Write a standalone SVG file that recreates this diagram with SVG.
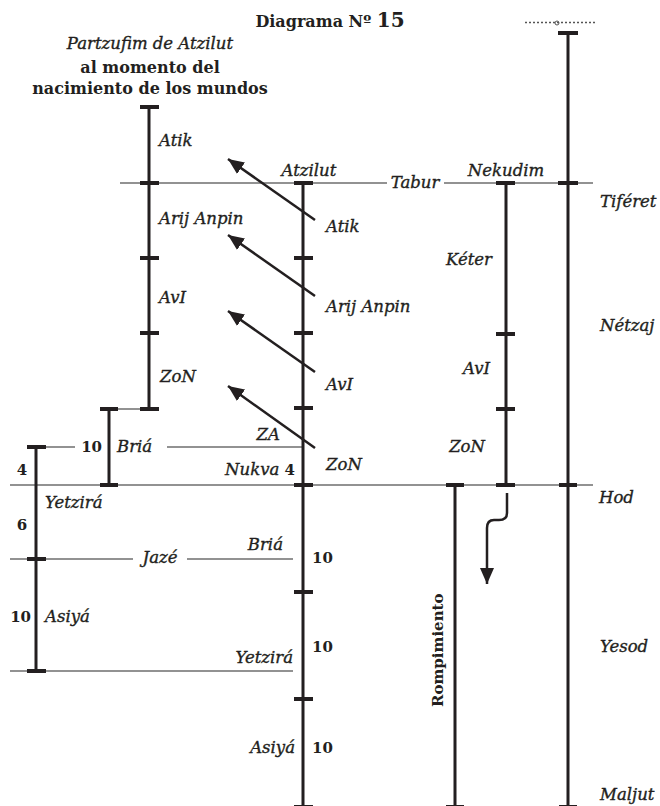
<svg xmlns="http://www.w3.org/2000/svg" width="660" height="806" viewBox="0 0 660 806">
<style>
.col{stroke:#231f20;stroke-width:3;fill:none}
.tk{stroke:#231f20;stroke-width:4;fill:none}
.thin{stroke:#6e6e6e;stroke-width:1.5;fill:none}
.arr{stroke:#231f20;stroke-width:2.5;fill:none}
.it{font-family:"DejaVu Serif","Liberation Serif",serif;font-style:italic;font-size:16.5px;fill:#231f20;stroke:#231f20;stroke-width:0.35}
.bd{font-family:"DejaVu Serif","Liberation Serif",serif;font-weight:bold;font-size:15px;fill:#231f20}
.tt{font-family:"DejaVu Serif","Liberation Serif",serif;font-weight:bold;font-size:16px;fill:#231f20}
</style>
<defs>
<marker id="ah" markerUnits="userSpaceOnUse" markerWidth="18" markerHeight="14" refX="16" refY="7" orient="auto">
<path d="M0,0 L16,7 L0,14 Z" fill="#231f20"/>
</marker>
</defs>
<rect width="660" height="806" fill="#fff"/>

<g id="title">
<text class="tt" x="330" y="27" text-anchor="middle" font-size="17px">Diagrama Nº <tspan font-size="20px">15</tspan></text>
<text class="it" x="150" y="49" text-anchor="middle" font-size="17.5px">Partzufim de Atzilut</text>
<text class="tt" x="150" y="73" text-anchor="middle">al momento del</text>
<text class="tt" x="150" y="94" text-anchor="middle" font-size="15.2px">nacimiento de los mundos</text>
</g>

<g id="cutoff">
<line x1="525" y1="22.5" x2="597" y2="22.5" stroke="#555" stroke-width="1.5" stroke-dasharray="2,2"/>
<circle cx="557" cy="23" r="2" fill="none" stroke="#555" stroke-width="1"/>
</g>

<g id="connectors">
<line class="thin" x1="120" y1="183" x2="387" y2="183"/>
<line class="thin" x1="444" y1="183" x2="593" y2="183"/>
<line class="thin" x1="10" y1="485" x2="593" y2="485"/>
<line class="thin" x1="46" y1="447" x2="75" y2="447"/>
<line class="thin" x1="167" y1="447" x2="303" y2="447"/>
<line class="thin" x1="118" y1="409" x2="140" y2="409"/>
<line class="thin" x1="10" y1="559" x2="133" y2="559"/>
<line class="thin" x1="187" y1="559" x2="293" y2="559"/>
<line class="thin" x1="10" y1="671" x2="293" y2="671"/>
<line class="arr" x1="315" y1="220" x2="228" y2="159" marker-end="url(#ah)"/>
<line class="arr" x1="315" y1="296" x2="228" y2="235" marker-end="url(#ah)"/>
<line class="arr" x1="315" y1="372" x2="228" y2="311" marker-end="url(#ah)"/>
<line class="arr" x1="315" y1="448" x2="228" y2="386" marker-end="url(#ah)"/>
<path class="arr" d="M507,493 V513 Q507,520 499,520 H494 Q487,520 487,528 V584" marker-end="url(#ah)"/>
</g>

<g id="col-partzufim">
<line class="col" x1="149" y1="107" x2="149" y2="409"/>
<path class="tk" d="M140,107H159M140,183H159M140,258H159M140,333H159M140,409H159"/>
<text class="it" x="159" y="146">Atik</text>
<text class="it" x="159" y="224">Arij Anpin</text>
<text class="it" x="159" y="303">AvI</text>
<text class="it" x="160" y="382">ZoN</text>
</g>

<g id="col-bria">
<line class="col" x1="109" y1="409" x2="109" y2="485"/>
<path class="tk" d="M100,409H118M100,485H118"/>
<text class="bd" x="102" y="452" text-anchor="end">10</text>
<text class="it" x="117" y="452">Briá</text>
</g>

<g id="col-left">
<line class="col" x1="36" y1="447" x2="36" y2="671"/>
<path class="tk" d="M27,447H46M27,559H46M27,671H46"/>
<text class="bd" x="22" y="475" text-anchor="middle">4</text>
<text class="it" x="45" y="508">Yetzirá</text>
<text class="bd" x="22" y="530" text-anchor="middle">6</text>
<text class="it" x="160" y="563" text-anchor="middle">Jazé</text>
<text class="bd" x="31" y="622" text-anchor="end">10</text>
<text class="it" x="45" y="622">Asiyá</text>
</g>

<g id="col-atzilut">
<line class="col" x1="303" y1="183" x2="303" y2="806"/>
<path class="tk" d="M294,183H313M294,258H313M294,333H313M294,408H313M294,485H313M294,592H313M294,699H313M294,807H313"/>
<text class="it" x="309" y="176" text-anchor="middle">Atzilut</text>
<text class="it" x="326" y="232">Atik</text>
<text class="it" x="326" y="312">Arij Anpin</text>
<text class="it" x="326" y="390">AvI</text>
<text class="it" x="326" y="470">ZoN</text>
<text class="it" x="280" y="440" text-anchor="end">ZA</text>
<text class="it" x="295" y="475" text-anchor="end">Nukva <tspan class="bd" font-style="normal" stroke="none">4</tspan></text>
<text class="it" x="283" y="550" text-anchor="end">Briá</text>
<text class="bd" x="312" y="563">10</text>
<text class="it" x="293" y="663" text-anchor="end">Yetzirá</text>
<text class="bd" x="312" y="652">10</text>
<text class="it" x="295" y="753" text-anchor="end">Asiyá</text>
<text class="bd" x="312" y="753">10</text>
</g>

<g id="tabur">
<text class="it" x="415" y="188" text-anchor="middle">Tabur</text>
</g>

<g id="col-nekudim">
<line class="col" x1="506" y1="183" x2="506" y2="485"/>
<path class="tk" d="M496,183H515M496,334H515M496,409H515M496,485H515"/>
<text class="it" x="506" y="176" text-anchor="middle">Nekudim</text>
<text class="it" x="492" y="265" text-anchor="end">Kéter</text>
<text class="it" x="490" y="374" text-anchor="end">AvI</text>
<text class="it" x="485" y="452" text-anchor="end">ZoN</text>
</g>

<g id="col-rompimiento">
<line class="col" x1="455" y1="485" x2="455" y2="806"/>
<path class="tk" d="M446,485H464M446,807H464"/>
<text class="bd" transform="translate(443,707) rotate(-90)">Rompimiento</text>
</g>

<g id="col-right">
<line class="col" x1="568" y1="33" x2="568" y2="806"/>
<path class="tk" d="M558,33H578M558,183H578M559,485H577M559,807H577"/>
<text class="it" x="600" y="207">Tiféret</text>
<text class="it" x="600" y="331">Nétzaj</text>
<text class="it" x="599" y="503">Hod</text>
<text class="it" x="600" y="652">Yesod</text>
<text class="it" x="600" y="800">Maljut</text>
</g>
</svg>
